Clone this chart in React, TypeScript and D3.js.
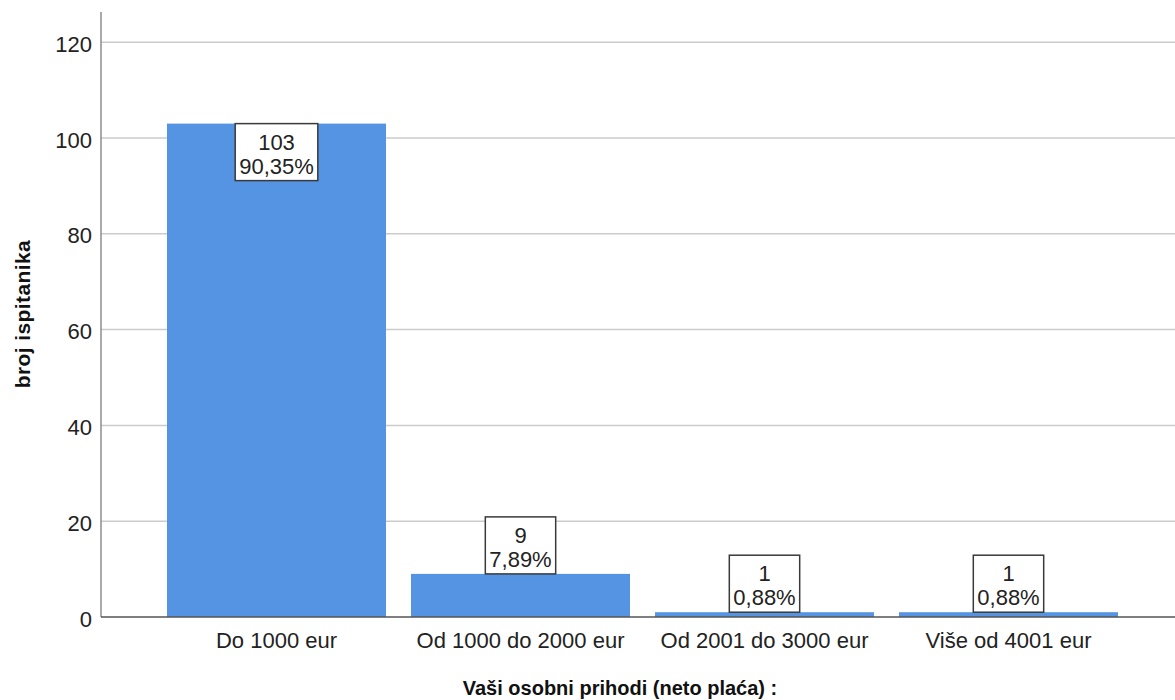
import * as d3 from 'd3';
import * as React from 'react';

const categories = ['Do 1000 eur', 'Od 1000 do 2000 eur', 'Od 2001 do 3000 eur', 'Više od 4001 eur'];
const counts = [103, 9, 1, 1];
const percentLabels = ['90,35%', '7,89%', '0,88%', '0,88%'];
const yTicks = [0, 20, 40, 60, 80, 100, 120];
const yTitle = 'broj ispitanika';
const xTitle = 'Vaši osobni prihodi (neto plaća) :';

const width = 1175;
const height = 700;
const font = '"Liberation Sans", Arial, sans-serif';
const labelSize = 22;
const barColor = '#5594e2';

/**
 * Measure a text with a canvas, used to size the label boxes.
 */
const measure = (() => {
    const ctx = document.createElement('canvas').getContext('2d');
    return (text: string, size: number) => {
        if (!ctx) return text.length * size * 0.55;
        ctx.font = `${size}px ${font}`;
        return ctx.measureText(text).width;
    };
})();

export default function App() {
    const x = d3.scaleBand<string>()
        .domain(categories)
        .range([154.5, 1130.5])
        .paddingInner(0.1025)
        .paddingOuter(0.05125);

    const y = d3.scaleLinear()
        .domain([0, 126.3])
        .range([617, 12]);

    const axisLeft = 101;
    const lineH = 24;
    const boxH = 57;

    return (
        <svg
            width={width}
            height={height}
            style={{ position: 'absolute', left: 0, top: 0, background: '#fff' }}
            fontFamily={font}
        >
            {/* grid lines */}
            {yTicks.filter(t => t > 0).map(t => (
                <line key={t} x1={axisLeft} x2={width} y1={y(t)} y2={y(t)}
                    stroke="#cbcbcb" strokeWidth={1.5} />
            ))}

            {/* bars */}
            {categories.map((c, i) => (
                <rect key={c} x={x(c)} y={y(counts[i])} width={x.bandwidth()}
                    height={y(0) - y(counts[i])} fill={barColor} />
            ))}

            {/* axes */}
            <line x1={axisLeft} x2={axisLeft} y1={y.range()[1]} y2={y(0)} stroke="#8c8c8c" strokeWidth={1.5} />
            <line x1={axisLeft} x2={width} y1={y(0)} y2={y(0)} stroke="#555" strokeWidth={1.5} />

            {/* y tick labels */}
            {yTicks.map(t => (
                <text key={t} x={92} y={y(t) + 2} dy="0.35em" textAnchor="end"
                    fontSize={labelSize} fill="#222">{t}</text>
            ))}

            {/* x tick labels */}
            {categories.map(c => (
                <text key={c} x={x(c) + x.bandwidth() / 2} y={648} textAnchor="middle"
                    fontSize={labelSize} fill="#222">{c}</text>
            ))}

            {/* data label boxes */}
            {categories.map((c, i) => {
                const cx = x(c) + x.bandwidth() / 2;
                const top = y(counts[i]);
                const barH = y(0) - top;
                const boxTop = barH > boxH ? top : top - boxH;
                const w = Math.max(measure(String(counts[i]), labelSize), measure(percentLabels[i], labelSize)) + 8;
                return (
                    <g key={c}>
                        <rect x={cx - w / 2} y={boxTop} width={w} height={boxH}
                            fill="#fff" stroke="#3a3a3a" strokeWidth={1.5} />
                        <text x={cx} y={boxTop + 26} textAnchor="middle" fontSize={labelSize} fill="#222">{counts[i]}</text>
                        <text x={cx} y={boxTop + 26 + lineH} textAnchor="middle" fontSize={labelSize} fill="#222">{percentLabels[i]}</text>
                    </g>
                );
            })}

            {/* axis titles */}
            <text transform={`translate(30,314) rotate(-90)`} textAnchor="middle"
                fontSize={21} letterSpacing={0.4} fontWeight="bold" fill="#111">{yTitle}</text>
            <text x={620} y={695} textAnchor="middle" fontSize={20} fontWeight="bold" fill="#111">{xTitle}</text>
        </svg>
    );
}
